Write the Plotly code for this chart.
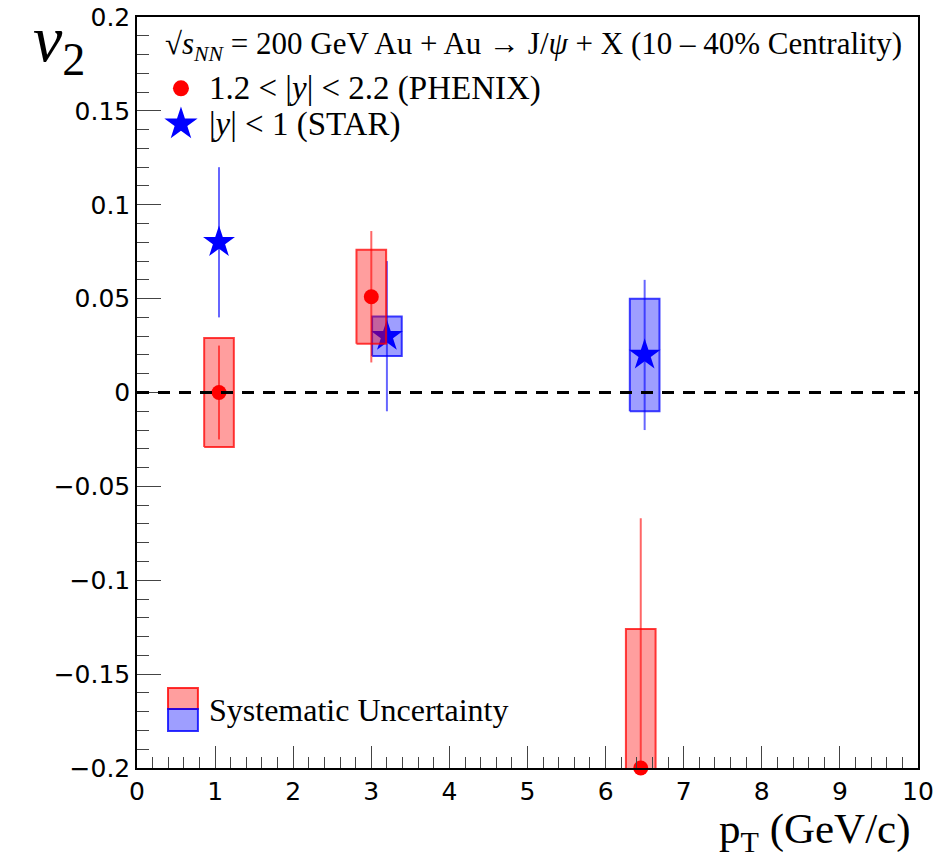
import plotly.graph_objects as go

# ---- data ----
phenix_pt = [1.05, 3.0, 6.45]
phenix_v2 = [0.0, 0.051, -0.2]
phenix_stat = [0.025, 0.035, 0.133]
phenix_sys = [0.029, 0.025, 0.074]

star_pt = [1.05, 3.2, 6.5]
star_v2 = [0.08, 0.03, 0.02]
star_stat = [0.04, 0.04, 0.04]
star_sys = [0.0, 0.0105, 0.03]

x_tickvals = [0, 1, 2, 3, 4, 5, 6, 7, 8, 9, 10]
x_ticktext = ["0", "1", "2", "3", "4", "5", "6", "7", "8", "9", "10"]
y_tickvals = [-0.2, -0.15, -0.1, -0.05, 0, 0.05, 0.1, 0.15, 0.2]
y_ticktext = ["\u22120.2", "\u22120.15", "\u22120.1", "\u22120.05", "0", "0.05", "0.1", "0.15", "0.2"]

phenix_label = "1.2 < |<i>y</i>| < 2.2 (PHENIX)"
star_label = "|<i>y</i>| < 1 (STAR)"
header_label = "√<i>s</i><sub><i>NN</i></sub> = 200 GeV Au + Au → J/<i>ψ</i> + X (10 – 40% Centrality)"
sys_label = "Systematic Uncertainty"

box_halfwidth = 0.19

RED = "#ff0000"
BLUE = "#0000ff"
SERIF = "Liberation Serif"

fig = go.Figure()


def add_series(pts, vals, stats, syss, color, err_col, line_col, fill_col, symbol, size, name):
    xs, ys = [], []
    for p, v, s in zip(pts, vals, syss):
        if s <= 0:
            continue
        xs += [p - box_halfwidth, p + box_halfwidth, p + box_halfwidth, p - box_halfwidth, p - box_halfwidth, None]
        ys += [v - s, v - s, v + s, v + s, v - s, None]
    fig.add_trace(go.Scatter(x=xs, y=ys, mode="lines", fill="toself",
                             fillcolor=fill_col, line=dict(color=line_col, width=2),
                             showlegend=False, hoverinfo="skip"))
    # stat error bars (clipped to the plot area)
    fig.add_trace(go.Scatter(x=pts, y=vals, mode="markers",
                             marker=dict(size=1, color="rgba(0,0,0,0)"),
                             error_y=dict(type="data", array=stats, visible=True,
                                          color=err_col, thickness=2, width=0),
                             showlegend=False, hoverinfo="skip"))
    fig.add_trace(go.Scatter(x=pts, y=vals, mode="markers", cliponaxis=False,
                             marker=dict(symbol=symbol, size=size, color=color),
                             name=name, showlegend=False))


add_series(star_pt, star_v2, star_stat, star_sys, BLUE, "rgba(0,0,255,0.6)",
           "rgba(0,0,255,0.75)", "rgba(0,0,255,0.38)", "star", 24, star_label)
add_series(phenix_pt, phenix_v2, phenix_stat, phenix_sys, RED, "rgba(255,0,0,0.6)",
           "rgba(255,0,0,0.75)", "rgba(255,0,0,0.38)", "circle", 15, phenix_label)

# legend key markers on an overlay axis spanning [0,1] (same as paper coords)
fig.add_trace(go.Scatter(x=[0.0563], y=[0.905], xaxis="x2", yaxis="y2", mode="markers",
                         marker=dict(symbol="circle", size=16, color=RED),
                         showlegend=False, hoverinfo="skip", cliponaxis=False))
fig.add_trace(go.Scatter(x=[0.0563], y=[0.8575], xaxis="x2", yaxis="y2", mode="markers",
                         marker=dict(symbol="star", size=25, color=BLUE),
                         showlegend=False, hoverinfo="skip", cliponaxis=False))

legend_font = dict(family=SERIF, size=33, color="black")
fig.add_annotation(xref="paper", yref="paper", x=0.033, y=0.961, xanchor="left", yanchor="middle",
                   text=header_label, showarrow=False, font=dict(family=SERIF, size=31, color="black"))
fig.add_annotation(xref="paper", yref="paper", x=0.0896, y=0.905, xanchor="left", yanchor="middle",
                   text=phenix_label, showarrow=False, font=legend_font)
fig.add_annotation(xref="paper", yref="paper", x=0.0896, y=0.8575, xanchor="left", yanchor="middle",
                   text=star_label, showarrow=False, font=legend_font)

# zero line
fig.add_shape(type="line", xref="x", yref="y", x0=0, x1=10, y0=0, y1=0,
              line=dict(color="black", width=3, dash="12px,9px"), layer="above")

# systematic uncertainty legend keys
fig.add_shape(type="rect", xref="paper", yref="paper", x0=0.0397, x1=0.078, y0=0.0786, y1=0.1065,
              fillcolor="rgba(255,0,0,0.38)", line=dict(color="rgba(255,0,0,0.8)", width=2))
fig.add_shape(type="rect", xref="paper", yref="paper", x0=0.0397, x1=0.078, y0=0.0493, y1=0.0786,
              fillcolor="rgba(0,0,255,0.38)", line=dict(color="rgba(0,0,255,0.8)", width=2))
fig.add_annotation(xref="paper", yref="paper", x=0.0896, y=0.0772, xanchor="left", yanchor="middle",
                   text=sys_label, showarrow=False, font=dict(family=SERIF, size=32, color="black"))

# axis titles
fig.add_annotation(xref="paper", yref="paper", x=0.993, y=-0.0855, xanchor="right", yanchor="middle",
                   text="p<sub>T</sub> (GeV/c)", showarrow=False,
                   font=dict(family=SERIF, size=43, color="black"))
fig.add_annotation(xref="paper", yref="paper", x=-0.1, y=0.965, xanchor="center", yanchor="middle",
                   text="<i>v</i><sub>2</sub>", showarrow=False,
                   font=dict(family=SERIF, size=66, color="black"))

fig.update_layout(
    width=936, height=849,
    margin=dict(l=129, r=26, t=9, b=89, autoexpand=False),
    plot_bgcolor="white", paper_bgcolor="white",
    font=dict(family="DejaVu Sans", size=25, color="black"),
    showlegend=False,
    xaxis=dict(range=[0, 10], tickvals=x_tickvals, ticktext=x_ticktext, ticks="inside",
               ticklen=22, tickwidth=1, automargin=False, ticklabeloverflow="allow",
               showline=True, linecolor="black", linewidth=1.5, mirror=True,
               showgrid=False, zeroline=False,
               minor=dict(dtick=0.2, tick0=0, ticks="inside", ticklen=11, tickwidth=1, showgrid=False)),
    yaxis=dict(range=[-0.2, 0.2], tickvals=y_tickvals, ticktext=y_ticktext, ticks="inside",
               ticklen=24, tickwidth=1, automargin=False, ticklabeloverflow="allow",
               showline=True, linecolor="black", linewidth=1.5, mirror=True,
               showgrid=False, zeroline=False,
               minor=dict(dtick=0.01, tick0=0, ticks="inside", ticklen=12, tickwidth=1, showgrid=False)),
    xaxis2=dict(range=[0, 1], overlaying="x", visible=False, showgrid=False, zeroline=False),
    yaxis2=dict(range=[0, 1], overlaying="y", visible=False, showgrid=False, zeroline=False),
)

fig.write_html("out.html")
